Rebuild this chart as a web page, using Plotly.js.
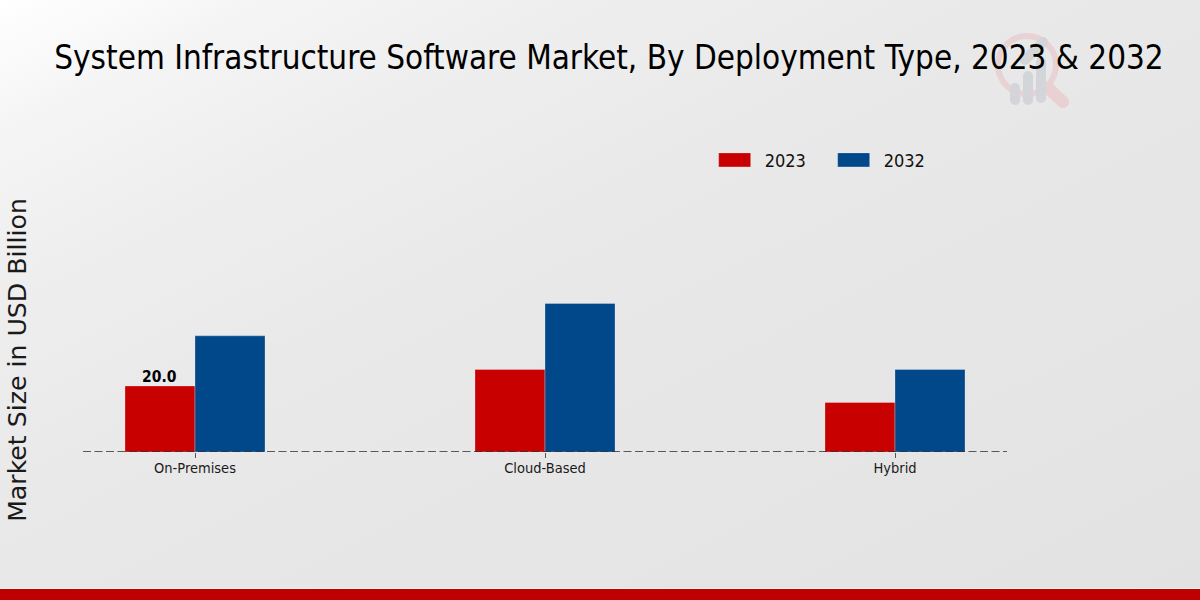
<!DOCTYPE html>
<html><head><meta charset="utf-8">
<script src="https://cdn.plot.ly/plotly-3.0.1.min.js"></script>
<style>
html,body{margin:0;padding:0;width:1200px;height:600px;overflow:hidden}
body{position:relative;background:linear-gradient(to bottom right,#ffffff 0%,#f4f4f4 12%,#eeeeee 25%,#e9e9e9 42%,#e2e2e2 100%)}
#logo{position:absolute;left:0;top:0}
#foot{position:absolute;left:0;top:589px;width:1200px;height:11px;background:#bf0000;box-shadow:0 -1px 0 #f2f2f2}
#chart{position:absolute;left:0;top:0;width:1200px;height:600px}
</style></head><body>
<svg id="logo" width="1200" height="600">
  <circle cx="1027" cy="65" r="29" fill="none" stroke="#e8d2d4" stroke-width="6"/>
  <line x1="1048" y1="88" x2="1063" y2="102" stroke="#e8d0d3" stroke-width="12" stroke-linecap="round"/>
  <g stroke="#d3d5d8" stroke-width="10" stroke-linecap="round">
    <line x1="1015" y1="88" x2="1015" y2="100"/>
    <line x1="1028" y1="76" x2="1028" y2="100"/>
    <line x1="1041" y1="62" x2="1041" y2="98"/>
    <line x1="1025" y1="60" x2="1043" y2="42"/>
  </g>
</svg>
<div id="foot"></div>
<div id="chart"></div>
<script>
const categories = ['On-Premises', 'Cloud-Based', 'Hybrid'];
const seriesNames = ['2023', '2032'];
const values2023 = [20, 25, 15];
const values2032 = [35.2, 45, 25];
const labelValue = '20.0';
const colors = ['#c80000', '#00488a'];
const condensed = '"DejaVu Sans Condensed","DejaVu Sans",sans-serif';

const traces = [
  {type:'bar', name:seriesNames[0], x:categories, y:values2023,
   marker:{color:colors[0], line:{color:'#f2f2f2', width:0.3}}},
  {type:'bar', name:seriesNames[1], x:categories, y:values2032,
   marker:{color:colors[1], line:{color:'#f2f2f2', width:0.3}}}
];
const layout = {
  width:1200, height:600,
  paper_bgcolor:'rgba(0,0,0,0)', plot_bgcolor:'rgba(0,0,0,0)',
  margin:{l:83, r:193, t:268, b:148, autoexpand:false},
  barmode:'group', bargap:0.6, bargroupgap:0,
  title:{text:'System Infrastructure Software Market, By Deployment Type, 2023 & 2032',
    font:{family:condensed, size:32.95, color:'#000'},
    x:0.5075, xref:'container', xanchor:'center', y:0.905, yanchor:'middle'},
  xaxis:{type:'category', range:[-0.32, 2.32], showgrid:false, zeroline:false, showline:false,
    ticks:'outside', ticklen:5, tickwidth:1, tickcolor:'#555', ticklabelstandoff:-2,
    tickfont:{family:condensed, size:14.5, color:'#1a1a1a'}},
  yaxis:{range:[0, 55.76], showgrid:false, zeroline:false, showline:false, showticklabels:false,
    ticks:'', title:{text:'Market Size in USD Billion', standoff:48,
    font:{family:'"DejaVu Sans",sans-serif', size:25.2, color:'#1a1a1a'}}},
  legend:{orientation:'h', x:0.6728, xanchor:'left', y:1.586, yanchor:'middle',
    bgcolor:'rgba(0,0,0,0)', font:{family:condensed, size:18, color:'#111'},
    itemwidth:50, entrywidth:54, entrywidthmode:'pixels', traceorder:'normal'},
  annotations:[{x:categories[0], y:values2023[0], xref:'x', yref:'y', xshift:-35.5, yshift:-2,
    text:labelValue, showarrow:false, yanchor:'bottom', xanchor:'center',
    font:{family:condensed, size:15.5, color:'#000', weight:700}}],
  shapes:[{type:'line', xref:'paper', yref:'y', x0:0, x1:1, y0:0, y1:0,
    line:{color:'#2a2a2a', width:1.4, dash:'8px 3.5px'}, layer:'above'}],
  showlegend:true
};
Plotly.newPlot('chart', traces, layout, {displayModeBar:false, staticPlot:true}).then(function(gd){
  gd.querySelectorAll('.legend .legendpoints path').forEach(function(p){
    p.setAttribute('d','M16,7H-16V-7H16Z');
  });
});
</script>
</body></html>
